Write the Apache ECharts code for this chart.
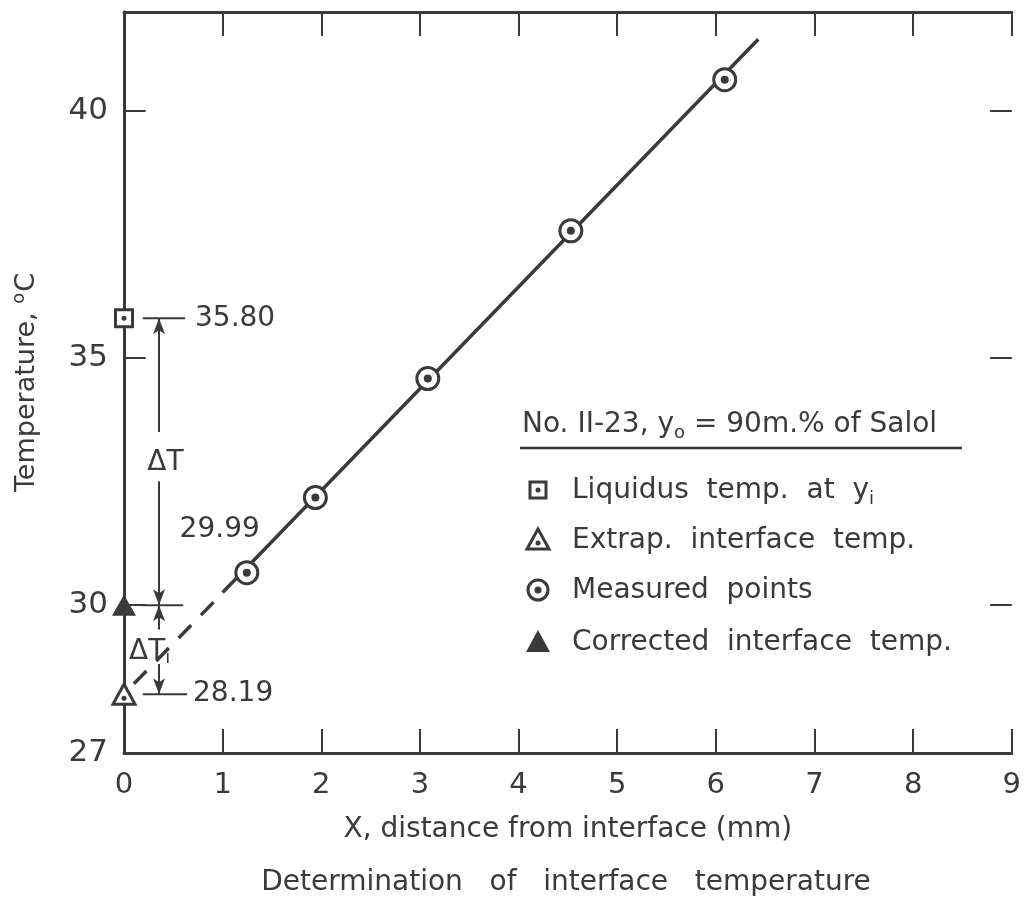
<!DOCTYPE html>
<html>
<head>
<meta charset="utf-8">
<script src="https://cdn.jsdelivr.net/npm/echarts@6/dist/echarts.min.js"></script>
<style>
  html, body { margin: 0; background: #fff; }
  #main { width: 1024px; height: 908px; }
</style>
</head>
<body>
<div id="main"></div>
<script>
// values
const yLabelValues = [27, 30, 35, 40];
const yTickValues = [30, 35, 40];
const measuredX = [1.245, 1.94, 3.08, 4.53, 6.09];
const measuredY = [30.65, 32.17, 34.58, 37.57, 40.63];
const fitX = [1.0, 6.43];
const fitY = [30.25, 41.45];
const extrapX = [0.1, 0.98];
const extrapY = [28.4, 30.2];
const liquidusT = 35.80;
const correctedT = 29.99;
const extrapT = 28.19;

const ink = '#3a3a3a';
const font = 'DejaVu Sans';

const pairs = (xs, ys) => xs.map((x, i) => [x, ys[i]]);

const myChart = echarts.init(document.getElementById('main'));

// vertical dimension arrows (x position of the arrow line)
const ax = 0.355;
const arrowLines = [
  [[ax, 33.5], [ax, liquidusT]],
  [[ax, 32.5], [ax, correctedT]],
  [[ax, 29.5], [ax, correctedT]],
  [[ax, 28.8], [ax, extrapT]]
];

// y ticks at 30/35/40 only, pointing inward from both frame sides
const tickLen = 0.22;
const yTickSegments = [];
yTickValues.forEach(v => {
  yTickSegments.push([{ coord: [0, v] }, { coord: [tickLen, v] }]);
  yTickSegments.push([{ coord: [9 - tickLen, v] }, { coord: [9, v] }]);
});

const leaderLine = (y, x1) => ({
  type: 'line', data: [[0.19, y], [x1, y]], symbol: 'none', silent: true,
  lineStyle: { color: ink, width: 2 }, z: 3
});

const textLabel = (pos, text, align, rich) => ({
  type: 'scatter', data: [pos], symbolSize: 0, silent: true, clip: false,
  itemStyle: { opacity: 1 },
  label: {
    show: true, position: 'inside', formatter: text, align: align,
    color: ink, fontFamily: font, fontSize: 28, rich: rich
  }
});

let option = {
  animation: false,
  backgroundColor: '#fff',
  grid: { left: 124, right: 10, top: 12, bottom: 155 },
  xAxis: [
    {
      type: 'value', min: 0, max: 9, interval: 1,
      name: 'X, distance from interface (mm)',
      nameLocation: 'middle', nameGap: 63,
      nameTextStyle: { color: ink, fontFamily: font, fontSize: 28 },
      axisLine: { lineStyle: { color: ink, width: 3 } },
      axisTick: { inside: true, length: 24, lineStyle: { color: ink, width: 2 } },
      axisLabel: { color: ink, fontFamily: font, fontSize: 29, margin: 18 },
      splitLine: { show: false }
    },
    {
      type: 'value', min: 0, max: 9, interval: 1, position: 'top',
      axisLine: { lineStyle: { color: ink, width: 3 } },
      axisTick: { inside: true, length: 24, lineStyle: { color: ink, width: 2 } },
      axisLabel: { show: false },
      splitLine: { show: false }
    }
  ],
  yAxis: [
    {
      type: 'value', min: 27, max: 42, interval: 1,
      name: 'Temperature, {sup|o}C',
      nameLocation: 'middle', nameGap: 80,
      nameTextStyle: {
        color: ink, fontFamily: font, fontSize: 27,
        rich: { sup: { fontSize: 18, fontFamily: font, color: ink, padding: [0, 1, 16, 0] } }
      },
      axisLine: { show: true, lineStyle: { color: ink, width: 3 } },
      axisTick: { show: false },
      axisLabel: {
        color: ink, fontFamily: font, fontSize: 31, margin: 16,
        formatter: v => (yLabelValues.indexOf(v) >= 0 ? String(v) : '')
      },
      splitLine: { show: false }
    },
    {
      type: 'value', min: 27, max: 42, interval: 1, position: 'right',
      axisLine: { show: true, lineStyle: { color: ink, width: 3 } },
      axisTick: { show: false },
      axisLabel: { show: false },
      splitLine: { show: false }
    }
  ],
  series: [
    {
      type: 'line', data: pairs(fitX, fitY), symbol: 'none', silent: true,
      lineStyle: { color: ink, width: 3.5 }, z: 2
    },
    {
      type: 'line', data: pairs(extrapX, extrapY), symbol: 'none', silent: true,
      lineStyle: { color: ink, width: 3.5, type: [18, 14] }, z: 2
    },
    leaderLine(liquidusT, 0.62),
    leaderLine(correctedT, 0.60),
    leaderLine(extrapT, 0.64),
    {
      type: 'line', data: [], silent: true,
      markLine: {
        silent: true, symbol: ['none', 'arrow'], symbolSize: [9, 16],
        label: { show: false },
        lineStyle: { color: ink, width: 2, type: 'solid' },
        data: arrowLines.map(l => [{ coord: l[0] }, { coord: l[1] }])
      }
    },
    {
      type: 'line', data: [], silent: true,
      markLine: {
        silent: true, symbol: 'none',
        label: { show: false },
        lineStyle: { color: ink, width: 2, type: 'solid' },
        data: yTickSegments
      }
    },
    // measured points
    {
      type: 'scatter', data: pairs(measuredX, measuredY), symbol: 'circle', symbolSize: 22,
      itemStyle: { color: '#fff', borderColor: ink, borderWidth: 3, opacity: 1 }, z: 4
    },
    {
      type: 'scatter', data: pairs(measuredX, measuredY), symbol: 'circle', symbolSize: 8,
      itemStyle: { color: ink, opacity: 1 }, z: 5
    },
    // liquidus temp
    {
      type: 'scatter', data: [[0, liquidusT]], symbol: 'rect', symbolSize: 17, clip: false,
      itemStyle: { color: '#fff', borderColor: ink, borderWidth: 3, opacity: 1 }, z: 4
    },
    {
      type: 'scatter', data: [[0, liquidusT]], symbol: 'circle', symbolSize: 5, clip: false,
      itemStyle: { color: ink, opacity: 1 }, z: 5
    },
    // extrapolated interface temp
    {
      type: 'scatter', data: [[0, extrapT]], symbol: 'triangle', symbolSize: [22, 20], clip: false,
      itemStyle: { color: '#fff', borderColor: ink, borderWidth: 3, opacity: 1 }, z: 4
    },
    {
      type: 'scatter', data: [[0, extrapT - 0.08]], symbol: 'circle', symbolSize: 5, clip: false,
      itemStyle: { color: ink, opacity: 1 }, z: 5
    },
    // corrected interface temp
    {
      type: 'scatter', data: [[0, correctedT]], symbol: 'triangle', symbolSize: [24, 21], clip: false,
      itemStyle: { color: ink, opacity: 1 }, z: 4
    },
    textLabel([0.72, liquidusT], '35.80', 'left'),
    textLabel([0.97, 31.51], '29.99', 'center'),
    textLabel([0.70, extrapT], '28.19', 'left'),
    textLabel([0.42, 32.88], 'ΔT', 'center'),
    textLabel([0.26, 29.05], '{a|ΔT}{s|i}', 'center', {
      a: { fontSize: 28, fontFamily: font, color: ink },
      s: { fontSize: 18, fontFamily: font, color: ink, padding: [14, 0, 0, 0] }
    })
  ],
  graphic: [
    {
      type: 'text', left: 522, top: 411,
      style: {
        text: '{t|No. II-23, y}{s|o}{t| = 90m.% of Salol}',
        rich: {
          t: { fontSize: 28, fontFamily: font, fill: ink },
          s: { fontSize: 18, fontFamily: font, fill: ink, padding: [16, 0, 0, 0] }
        }
      }
    },
    { type: 'line', shape: { x1: 520, y1: 448, x2: 962, y2: 448 }, style: { stroke: ink, lineWidth: 2.5 } },
    // legend symbols
    { type: 'rect', shape: { x: 530, y: 482, width: 16, height: 16 }, style: { fill: '#fff', stroke: ink, lineWidth: 3 } },
    { type: 'circle', shape: { cx: 538, cy: 490, r: 2.5 }, style: { fill: ink } },
    { type: 'polygon', shape: { points: [[538, 529], [527, 549], [549, 549]] }, style: { fill: '#fff', stroke: ink, lineWidth: 3 } },
    { type: 'circle', shape: { cx: 538, cy: 543, r: 2.5 }, style: { fill: ink } },
    { type: 'circle', shape: { cx: 538, cy: 590, r: 10 }, style: { fill: '#fff', stroke: ink, lineWidth: 3 } },
    { type: 'circle', shape: { cx: 538, cy: 590, r: 3.5 }, style: { fill: ink } },
    { type: 'polygon', shape: { points: [[538, 630], [526, 652], [550, 652]] }, style: { fill: ink } },
    // legend texts
    {
      type: 'text', left: 572, top: 477,
      style: {
        text: '{t|Liquidus  temp.  at  y}{s|i}',
        rich: {
          t: { fontSize: 28, fontFamily: font, fill: ink },
          s: { fontSize: 18, fontFamily: font, fill: ink, padding: [16, 0, 0, 0] }
        }
      }
    },
    { type: 'text', left: 572, top: 527, style: { text: 'Extrap.  interface  temp.', fontSize: 28, fontFamily: font, fill: ink } },
    { type: 'text', left: 572, top: 577, style: { text: 'Measured  points', fontSize: 28, fontFamily: font, fill: ink } },
    { type: 'text', left: 572, top: 629, style: { text: 'Corrected  interface  temp.', fontSize: 28, fontFamily: font, fill: ink } },
    // caption
    {
      type: 'text', x: 566, y: 883,
      style: {
        text: 'Determination   of   interface   temperature', fontSize: 28, fontFamily: font, fill: ink,
        align: 'center', verticalAlign: 'middle'
      }
    }
  ]
};

option && myChart.setOption(option);
</script>
</body>
</html>
